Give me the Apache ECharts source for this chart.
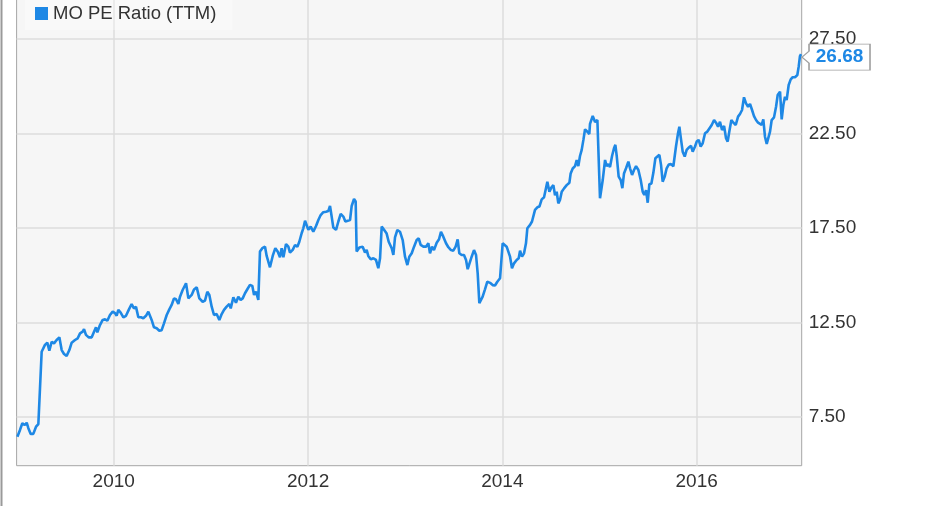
<!DOCTYPE html>
<html>
<head>
<meta charset="utf-8">
<script src="https://cdn.jsdelivr.net/npm/echarts@6/dist/echarts.min.js"></script>
<style>
html,body{margin:0;padding:0;background:#fff;}
#chart{width:931px;height:506px;}
</style>
</head>
<body>
<div id="chart"></div>
<script>
// Dates as decimal years, PE ratio values
const seriesName = 'MO PE Ratio (TTM)';
const years = [
2009.008,2009.035,2009.059,2009.086,2009.104,2009.121,2009.145,2009.172,2009.200,2009.224,2009.241,2009.258,2009.292,2009.316,2009.337,2009.361,2009.385,2009.412,2009.440,2009.464,2009.488,2009.515,2009.543,2009.567,2009.601,2009.629,2009.653,2009.680,2009.694,2009.714,2009.742,2009.773,2009.797,2009.817,2009.831,2009.858,2009.886,2009.910,2009.934,2009.961,2009.989,
2010.013,2010.030,2010.047,2010.071,2010.099,2010.126,2010.154,2010.184,2010.208,2010.229,2010.253,2010.280,2010.304,2010.332,2010.356,2010.373,2010.390,2010.414,2010.442,2010.469,2010.493,2010.517,2010.545,2010.572,2010.596,2010.620,2010.641,2010.665,2010.682,2010.709,2010.744,2010.768,2010.802,2010.826,2010.854,2010.881,2010.915,2010.939,2010.963,2010.984,
2011.008,2011.032,2011.059,2011.087,2011.111,2011.135,2011.162,2011.190,2011.204,2011.231,2011.258,2011.282,2011.306,2011.327,2011.351,2011.375,2011.402,2011.426,2011.444,2011.464,2011.488,2011.505,2011.529,2011.557,2011.574,2011.591,2011.608,2011.636,2011.663,2011.687,2011.711,2011.728,2011.746,2011.773,2011.797,2011.814,2011.842,2011.866,2011.890,2011.910,2011.934,2011.951,2011.969,2011.986,
2012.003,2012.027,2012.054,2012.082,2012.106,2012.130,2012.157,2012.185,2012.209,2012.226,2012.243,2012.260,2012.288,2012.312,2012.336,2012.363,2012.384,2012.404,2012.432,2012.449,2012.473,2012.490,2012.500,2012.528,2012.562,2012.586,2012.603,2012.620,2012.645,2012.672,2012.699,2012.723,2012.741,2012.758,2012.782,2012.809,2012.830,2012.861,2012.878,2012.895,2012.919,2012.946,2012.974,2012.998,
2013.022,2013.042,2013.067,2013.091,2013.118,2013.139,2013.159,2013.187,2013.214,2013.238,2013.255,2013.276,2013.296,2013.324,2013.348,2013.368,2013.392,2013.420,2013.444,2013.471,2013.495,2013.519,2013.540,2013.557,2013.581,2013.605,2013.626,2013.643,2013.660,2013.684,2013.708,2013.729,2013.746,2013.763,2013.777,2013.797,2013.821,2013.845,2013.873,2013.900,2013.924,2013.948,2013.976,2013.989,
2014.003,2014.020,2014.044,2014.062,2014.079,2014.099,2014.120,2014.147,2014.168,2014.182,2014.202,2014.223,2014.243,2014.257,2014.285,2014.305,2014.319,2014.336,2014.360,2014.381,2014.405,2014.429,2014.449,2014.463,2014.484,2014.504,2014.525,2014.542,2014.559,2014.576,2014.593,2014.611,2014.635,2014.662,2014.690,2014.703,2014.724,2014.748,2014.765,2014.782,2014.799,2014.816,2014.834,2014.851,2014.875,2014.895,2014.902,2014.930,2014.954,2014.978,2014.988,
2015.005,2015.033,2015.057,2015.074,2015.091,2015.108,2015.129,2015.149,2015.163,2015.177,2015.197,2015.218,2015.235,2015.252,2015.273,2015.297,2015.314,2015.335,2015.355,2015.376,2015.400,2015.424,2015.444,2015.461,2015.479,2015.496,2015.513,2015.534,2015.554,2015.575,2015.595,2015.616,2015.633,2015.650,2015.671,2015.691,2015.712,2015.736,2015.760,2015.787,2015.808,2015.822,2015.835,2015.856,2015.877,2015.897,2015.921,2015.942,2015.959,2015.983,
2016.000,2016.021,2016.041,2016.062,2016.086,2016.110,2016.130,2016.155,2016.179,2016.199,2016.220,2016.240,2016.261,2016.282,2016.302,2016.319,2016.336,2016.357,2016.378,2016.402,2016.426,2016.446,2016.467,2016.487,2016.508,2016.529,2016.549,2016.570,2016.590,2016.611,2016.632,2016.652,2016.669,2016.686,2016.703,2016.721,2016.741,2016.755,2016.772,2016.796,2016.817,2016.834,2016.858,2016.875,2016.892,2016.909,2016.926,2016.947,2016.968,2016.988,
2017.012,2017.036,2017.050,2017.063,2017.074
];
const values = [
6.47,6.83,7.18,7.09,7.21,6.92,6.62,6.62,7.00,7.14,7.09,10.96,11.32,11.44,11.02,11.49,11.40,11.58,11.72,11.05,10.84,10.74,11.05,11.44,11.58,11.67,11.93,12.02,12.15,11.85,11.72,11.72,12.02,12.25,11.98,12.37,12.64,12.67,12.60,12.90,13.08,
13.00,12.86,13.17,13.03,12.78,12.86,13.17,13.48,13.25,13.33,12.78,12.78,12.73,12.86,13.08,13.00,12.64,12.25,12.20,12.07,12.10,12.46,12.90,13.20,13.43,13.78,13.73,13.48,13.87,14.22,14.58,13.78,13.96,14.25,14.36,13.78,13.60,13.66,14.13,13.96,
13.34,12.90,12.95,12.64,12.95,13.17,13.34,13.48,13.25,13.84,13.55,13.87,13.70,13.78,14.05,14.26,14.49,14.44,13.96,14.13,13.70,16.25,16.43,16.51,16.02,15.95,15.42,16.02,16.43,16.25,15.95,16.43,15.95,16.65,16.51,16.20,16.34,16.60,16.51,16.77,17.22,17.48,17.88,17.79,
17.40,17.57,17.30,17.60,17.92,18.18,18.33,18.36,18.40,18.66,18.10,17.52,17.40,17.84,18.24,18.10,17.84,17.88,17.92,18.66,19.03,18.90,16.25,16.47,16.51,16.20,16.34,16.02,15.84,15.90,15.81,15.37,15.90,17.57,17.40,17.20,16.77,16.43,16.07,17.00,17.39,17.30,16.86,15.98,
15.54,15.98,16.16,16.51,16.86,16.95,16.60,16.51,16.51,16.69,16.16,16.51,16.33,16.72,16.90,17.30,17.04,16.69,16.48,16.33,16.30,16.51,16.90,16.16,16.07,16.07,15.81,15.32,15.37,15.98,16.33,16.07,15.10,13.52,13.43,13.87,14.26,14.66,14.60,14.48,14.46,14.66,14.84,14.87,
16.69,16.60,16.51,16.55,15.98,15.37,15.63,15.81,15.90,16.30,15.98,16.16,16.69,17.48,17.66,17.84,17.84,18.45,18.59,18.63,19.01,19.12,19.15,19.94,19.41,19.63,19.76,19.23,19.41,18.80,18.98,19.41,19.59,19.76,19.89,20.38,20.64,20.77,21.08,20.77,21.30,21.61,22.15,22.71,22.58,22.46,23.00,23.41,23.10,23.20,23.11,
19.07,20.03,21.09,20.76,20.87,20.72,21.30,21.71,21.89,21.30,20.21,20.03,19.60,20.38,20.65,21.00,20.65,20.30,20.56,20.76,20.56,20.03,19.42,19.24,19.50,18.83,19.81,19.85,20.41,21.18,21.27,21.36,20.83,19.94,20.21,20.65,20.85,20.87,20.76,21.80,22.50,22.85,22.32,21.53,21.27,21.62,21.76,21.83,21.53,21.80,
22.06,22.15,21.80,21.97,22.50,22.59,22.54,22.94,23.20,23.06,22.85,23.11,22.67,22.89,22.24,22.06,22.59,23.20,23.06,22.94,23.38,23.52,23.73,24.40,24.08,23.90,24.05,23.73,23.41,23.20,23.06,23.03,22.94,23.23,22.32,21.94,21.97,22.59,23.20,23.34,23.90,24.52,24.70,23.23,23.99,24.43,24.26,25.05,25.35,25.46,
25.46,25.58,26.02,26.58,26.68
];
const xTicks = [2010, 2012, 2014, 2016];
const yTicks = [7.5, 12.5, 17.5, 22.5, 27.5];
const xMin = 2009, xMax = 2017.081;
const yMin = 4.94, yMax = 30;

const lineColor = '#1e88e5';
const font = 'Liberation Sans, Arial, Helvetica, sans-serif';
const data = years.map((y, i) => [y, values[i]]);
const last = data.length - 1;

const chart = echarts.init(document.getElementById('chart'), null, {renderer: 'canvas'});
chart.setOption({
  animation: false,
  backgroundColor: '#ffffff',
  textStyle: {fontFamily: font},
  grid: {
    left: 16.6, right: 129.3, top: -8.7, bottom: 40.3,
    show: true, backgroundColor: '#f6f6f6', borderColor: '#a6a6a6', borderWidth: 1,
    outerBoundsMode: 'none', containLabel: false
  },
  legend: {
    data: [seriesName],
    left: 25, top: 0,
    padding: [4, 16, 7, 10],
    icon: 'rect', itemWidth: 13, itemHeight: 13,
    backgroundColor: 'rgba(255,255,255,0.3)',
    textStyle: {fontSize: 18.5, color: '#333', fontFamily: font},
    selectedMode: false
  },
  xAxis: {
    type: 'value', min: xMin, max: xMax,
    axisLine: {show: false},
    axisTick: {show: false, customValues: xTicks},
    axisLabel: {customValues: xTicks, formatter: v => String(Math.round(v)), fontSize: 19, color: '#333', margin: 7, fontFamily: font},
    splitLine: {show: true, lineStyle: {color: '#dcdcdc', width: 1.5}}
  },
  yAxis: {
    type: 'value', position: 'right', min: yMin, max: yMax,
    axisLine: {show: false},
    axisTick: {show: false, customValues: yTicks},
    axisLabel: {customValues: yTicks, formatter: v => v.toFixed(2), fontSize: 19, color: '#333', margin: 7, fontFamily: font},
    splitLine: {show: true, lineStyle: {color: '#dcdcdc', width: 1.5}}
  },
  graphic: [{
    type: 'line', silent: true,
    shape: {x1: 1.5, y1: 0, x2: 1.5, y2: 506},
    style: {stroke: '#9a9a9a', lineWidth: 2}
  }],
  series: [{
    name: seriesName,
    type: 'line',
    data: data,
    showSymbol: false,
    symbol: 'none',
    lineStyle: {color: lineColor, width: 2.6},
    itemStyle: {color: lineColor},
    markPoint: {
      silent: true,
      symbol: 'path://M0,13 L7,7 L7,0 L68,0 L68,26 L7,26 L7,19 Z',
      symbolSize: [68, 26],
      symbolOffset: [35, 3],
      symbolKeepAspect: false,
      itemStyle: {color: '#ffffff', borderColor: '#a0a0a0', borderWidth: 1},
      label: {
        show: true, position: 'inside', offset: [3.5, 0],
        formatter: p => Number(p.value).toFixed(2),
        color: lineColor, fontSize: 19, fontWeight: 'bold', fontFamily: font
      },
      data: [{coord: data[last], value: values[last]}]
    }
  }]
});
</script>
</body>
</html>
